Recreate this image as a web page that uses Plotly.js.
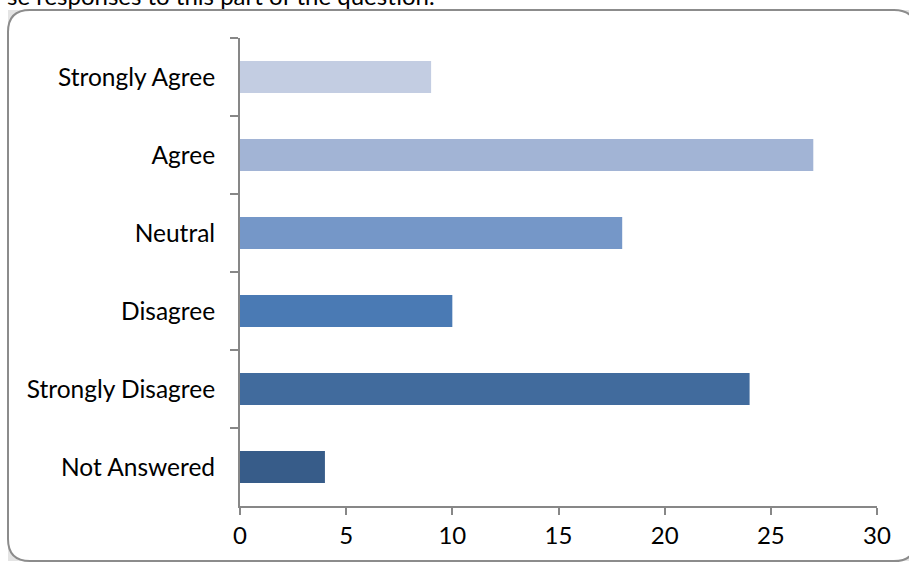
<!DOCTYPE html>
<html>
<head>
<meta charset="utf-8">
<script src="https://cdn.plot.ly/plotly-3.0.1.min.js"></script>
<style>html,body{margin:0;padding:0;background:#fff;}#chart{width:909px;height:563px;}</style>
</head>
<body>
<div id="chart"></div>
<script>
const categories = ['Strongly Agree', 'Agree', 'Neutral', 'Disagree', 'Strongly Disagree', 'Not Answered'];
const values = [9, 27, 18, 10, 24, 4];
const barColors = ['#C3CDE2', '#A2B4D5', '#7597C8', '#4A7AB4', '#416B9D', '#375C89'];
const xTicks = [0, 5, 10, 15, 20, 25, 30];
const topText = 'se responses to this part of the question.';

const W = 909, H = 563;
const L = 240, R = 877, T = 38, B = 506;
const px = v => (v - L) / (R - L);
const py = v => (B - v) / (B - T);

// rounded frame
const fx0 = 8, fx1 = 916, fy0 = 10, fy1 = 561, rad = 22;
const framePath =
  'M ' + px(fx0 + rad) + ' ' + py(fy0) +
  ' L ' + px(fx1 - rad) + ' ' + py(fy0) +
  ' Q ' + px(fx1) + ' ' + py(fy0) + ' ' + px(fx1) + ' ' + py(fy0 + rad) +
  ' L ' + px(fx1) + ' ' + py(fy1 - rad) +
  ' Q ' + px(fx1) + ' ' + py(fy1) + ' ' + px(fx1 - rad) + ' ' + py(fy1) +
  ' L ' + px(fx0 + rad) + ' ' + py(fy1) +
  ' Q ' + px(fx0) + ' ' + py(fy1) + ' ' + px(fx0) + ' ' + py(fy1 - rad) +
  ' L ' + px(fx0) + ' ' + py(fy0 + rad) +
  ' Q ' + px(fx0) + ' ' + py(fy0) + ' ' + px(fx0 + rad) + ' ' + py(fy0) + ' Z';

const FONT = 'Lato, "Open Sans", sans-serif';

const data = [{
  type: 'bar',
  orientation: 'h',
  y: categories,
  x: values,
  marker: {color: barColors, line: {width: 0}},
  hoverinfo: 'none'
}];

const layout = {
  width: W, height: H,
  margin: {l: L, r: W - R, t: T, b: H - B, pad: 0},
  paper_bgcolor: '#ffffff',
  plot_bgcolor: 'rgba(0,0,0,0)',
  showlegend: false,
  bargap: 0.59,
  font: {family: FONT, size: 24, color: '#000000'},
  xaxis: {
    range: [0, 30],
    tickvals: xTicks,
    ticktext: xTicks.map(String),
    ticks: 'outside', ticklen: 7, tickwidth: 2, tickcolor: '#878787',
    showline: true, linecolor: '#878787', linewidth: 2,
    showgrid: false, zeroline: false,
    tickfont: {family: FONT, size: 24, color: '#000000'},
    fixedrange: true
  },
  yaxis: {
    type: 'category',
    autorange: 'reversed',
    tickson: 'boundaries',
    ticks: 'outside', ticklen: 8, tickwidth: 2, tickcolor: '#878787',
    showline: true, linecolor: '#878787', linewidth: 2,
    showgrid: false, zeroline: false,
    ticklabelstandoff: 18,
    tickfont: {family: FONT, size: 24.5, color: '#000000'},
    fixedrange: true
  },
  shapes: [
    {type: 'rect', xref: 'paper', yref: 'paper', layer: 'below',
     x0: px(fx0), x1: px(fx1), y0: py(fy1), y1: py(fy0),
     fillcolor: '#E4E4E4', line: {width: 0}},
    {type: 'path', xref: 'paper', yref: 'paper', layer: 'below',
     path: framePath, fillcolor: '#ffffff', line: {color: '#8C8C8C', width: 2}}
  ],
  annotations: [{
    xref: 'paper', yref: 'paper',
    x: px(437), y: py(12), xanchor: 'right', yanchor: 'bottom',
    text: topText, showarrow: false,
    font: {family: FONT, size: 24, color: '#000000'}
  }]
};

Plotly.newPlot('chart', data, layout, {displayModeBar: false, staticPlot: true});
</script>
</body>
</html>
